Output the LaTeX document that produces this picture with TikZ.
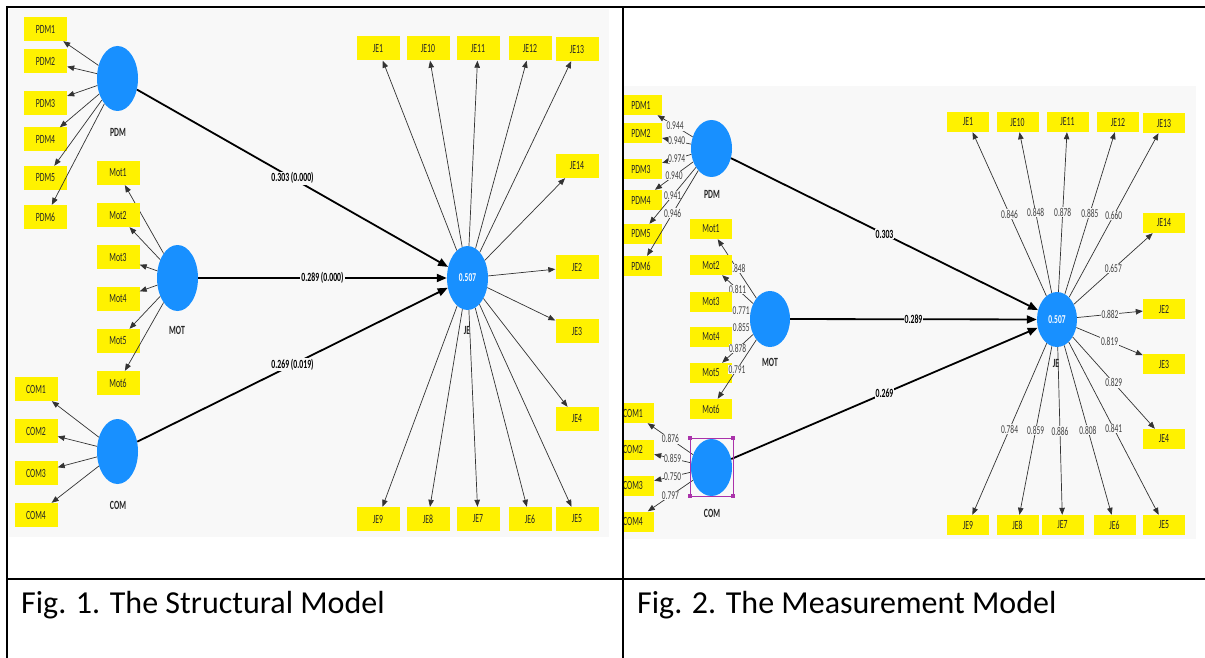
\documentclass[tikz,border=0pt]{standalone}
\usepackage{fontspec}
\setmainfont{Carlito}
\newfontfamily\labfont[FakeStretch=0.62]{Carlito}
\usetikzlibrary{shapes.geometric,arrows.meta}
\definecolor{lvblue}{RGB}{24,144,255}
\definecolor{panelbg}{RGB}{248,248,248}
\definecolor{selpurple}{RGB}{170,50,170}

\tikzset{
  ind/.style={rectangle, fill=yellow, inner sep=0pt, text=black!85,
    font=\labfont\fontsize{12.5}{12.5}\selectfont},
  indA/.style={ind, minimum width=43pt, minimum height=24pt},
  indB/.style={ind, minimum width=42pt, minimum height=20pt},
  lv/.style={ellipse, fill=lvblue, inner sep=0pt, text=white,
    font=\labfont\bfseries\fontsize{12}{12}\selectfont},
  lvname/.style={text=black!85, font=\labfont\bfseries\fontsize{12.5}{12.5}\selectfont},
  load/.style={draw=black!80, line width=0.7pt, -{Triangle[length=7pt,width=5.5pt]}},
  pathc/.style={draw=black, line width=1.8pt, -{Triangle[length=10pt,width=8pt]}},
  coef/.style={fill=panelbg, inner sep=1pt,
    font=\labfont\bfseries\fontsize{12.5}{12.5}\selectfont},
  ldval/.style={fill=panelbg, inner sep=0.6pt, text=black!75,
    font=\labfont\fontsize{12}{12}\selectfont},
  rule/.style={draw=black, line width=2pt},
  caption/.style={anchor=base west, inner sep=0pt, font=\fontsize{32}{32}\selectfont},
}

\begin{document}
\begin{tikzpicture}[x=1pt,y=-1pt]
\useasboundingbox (0,0) rectangle (1205,658);
\fill[white] (0,0) rectangle (1205,658);

% ---------- structural model ----------
\fill[panelbg] (9,9) rectangle (609,537);

\node[lv, minimum width=41pt, minimum height=65pt] (pdmA) at (117.5,78.5) {};
\node[lvname] (pdmAl) at (118,132) {PDM};
\node[lv, minimum width=41pt, minimum height=66pt] (motA) at (177.5,278) {};
\node[lvname] (motAl) at (177,330) {MOT};
\node[lv, minimum width=41pt, minimum height=65pt] (comA) at (117.5,451.5) {};
\node[lvname] (comAl) at (118,505) {COM};
\node[lv, minimum width=41pt, minimum height=64pt] (jeA) at (467.5,278) {0.507};
\node[lvname] (jeAl) at (467,330) {JE};

\foreach \i/\y in {1/29,2/61.5,3/103.5,4/139.5,5/178,6/217}{
  \node[indA] (pdmA\i) at (45.5,\y) {PDM\i};
  \draw[load] (pdmA) -- (pdmA\i);
}
\foreach \i/\y in {1/173,2/215,3/257,4/299,5/341,6/383}{
  \node[indA] (motA\i) at (118,\y) {Mot\i};
  \draw[load] (motA) -- (motA\i);
}
\foreach \i/\y in {1/389,2/431,3/473,4/515}{
  \node[indA] (comA\i) at (36,\y) {COM\i};
  \draw[load] (comA) -- (comA\i);
}
\foreach \i/\x/\y in {1/378/48.5,10/428/48.5,11/478/48.5,12/530/48.5,13/577/49,
    14/577/166,2/577/267,3/577/331,4/577/419,5/577/519,6/530/519,7/478/519,
    8/428/519,9/378/519}{
  \node[indA] (jeA\i) at (\x,\y) {JE\i};
  \draw[load] (jeA) -- (jeA\i);
}

\draw[pathc] (pdmA) -- node[coef] {0.303 (0.000)} (jeA);
\draw[pathc] (motA) -- node[coef] {0.289 (0.000)} (jeA);
\draw[pathc] (comA) -- node[coef] {0.269 (0.019)} (jeA);

% ---------- measurement model ----------
\begin{scope}
\clip (623,86) rectangle (1196,539);
\fill[panelbg] (623,86) rectangle (1196,539);

\node[lv, minimum width=41pt, minimum height=57pt] (pdmB) at (711.5,148.5) {};
\node[lvname] (pdmBl) at (712,194) {PDM};
\node[lv, minimum width=40pt, minimum height=56pt] (motB) at (770,319) {};
\node[lvname] (motBl) at (770,362) {MOT};
\node[lv, minimum width=41pt, minimum height=57pt] (comB) at (711.5,467.5) {};
\node[lvname] (comBl) at (712,513) {COM};
\node[lv, minimum width=40pt, minimum height=55pt] (jeB) at (1057,319.5) {0.507};
\node[lvname] (jeBl) at (1056,363) {JE};

\foreach \i/\y/\v in {1/105/0.944,2/133.5/0.940,3/169/0.974,4/200/0.940,
    5/234/0.941,6/266/0.946}{
  \node[indB] (pdmB\i) at (641,\y) {PDM\i};
  \draw[load] (pdmB) -- node[ldval] {\v} (pdmB\i);
}
\foreach \i/\y/\v in {1/229/0.848,2/265/0.811,3/301.5/0.771,4/337/0.855,
    5/373/0.878,6/409/0.791}{
  \node[indB] (motB\i) at (711,\y) {Mot\i};
  \draw[load] (motB) -- node[ldval] {\v} (motB\i);
}
\foreach \i/\y/\v in {1/413/0.876,2/449.5/0.859,3/485.5/0.750,4/521.5/0.797}{
  \node[indB] (comB\i) at (633,\y) {COM\i};
  \draw[load] (comB) -- node[ldval] {\v} (comB\i);
}
\foreach \i/\x/\y/\v in {1/968/122/0.846,10/1017.5/122/0.848,11/1067.5/122/0.878,
    12/1118/122/0.885,13/1164/123/0.660,14/1164/223/0.657,2/1164/309/0.882,
    3/1164/364/0.819,4/1164/439/0.829,5/1164/525/0.841,6/1114.5/525/0.808,
    7/1062.5/525/0.886,8/1017.5/525/0.859,9/968/525/0.784}{
  \node[indB] (jeB\i) at (\x,\y) {JE\i};
  \draw[load] (jeB) -- node[ldval] {\v} (jeB\i);
}

\draw[pathc] (pdmB) -- node[coef] {0.303} (jeB);
\draw[pathc] (motB) -- node[coef] {0.289} (jeB);
\draw[pathc] (comB) -- node[coef] {0.269} (jeB);

% selection frame around COM
\draw[selpurple, line width=0.8pt] (690,438) rectangle (733,496);
\foreach \cx/\cy in {690/438,733/438,690/496,733/496}
  \fill[selpurple] (\cx-2.2,\cy-2.2) rectangle (\cx+2.2,\cy+2.2);
\end{scope}

% ---------- table rules ----------
\draw[rule] (7,7) -- (1205,7);
\draw[rule] (7,579) -- (1205,579);
\draw[rule] (7,6) -- (7,658);
\draw[draw=black, line width=1.5pt] (623,7) -- (623,658);

\node[caption] (capA) at (21,613) {Fig. 1. The Structural Model};
\node[caption] (capB) at (637,613) {Fig. 2. The Measurement Model};
\end{tikzpicture}
\end{document}
